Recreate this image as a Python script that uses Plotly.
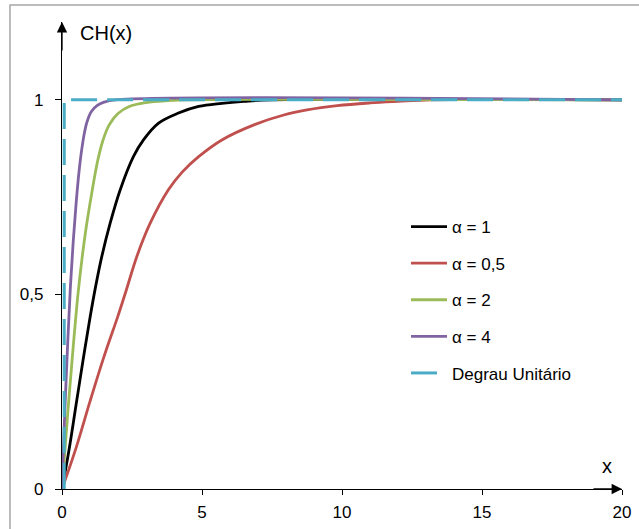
import plotly.graph_objects as go

# ---- data ----
series_names = ["α = 1", "α = 0,5", "α = 2", "α = 4", "Degrau Unitário"]

x_a1 = [0, 0.25, 0.5, 0.75, 1.0, 1.2, 1.42, 1.72, 2.08, 2.55, 2.91, 3.45, 4.16, 4.88, 5.71, 6.5, 7.5, 20]
y_a1 = [0, 0.10, 0.215, 0.33, 0.44, 0.52, 0.597, 0.683, 0.769, 0.854, 0.897, 0.94, 0.966, 0.983, 0.991, 0.996, 1.0, 1.0]

x_a05 = [0, 0.5, 1.0, 1.5, 2.0, 2.3, 2.67, 3.15, 3.8, 4.3, 4.88, 5.71, 6.9, 7.92, 8.75, 9.83, 11.0, 12.0, 13.2, 20]
y_a05 = [0, 0.105, 0.225, 0.34, 0.445, 0.512, 0.597, 0.683, 0.769, 0.815, 0.854, 0.897, 0.937, 0.961, 0.974, 0.985, 0.992, 0.996, 1.0, 1.0]

x_a2 = [0, 0.2, 0.4, 0.57, 0.72, 0.87, 1.05, 1.27, 1.45, 1.68, 2.0, 2.4, 3.0, 3.8, 4.5, 20]
y_a2 = [0, 0.19, 0.365, 0.5, 0.595, 0.675, 0.755, 0.842, 0.893, 0.935, 0.965, 0.983, 0.993, 0.998, 1.0, 1.0]

x_a4 = [0, 0.1, 0.2, 0.3, 0.4, 0.5, 0.6, 0.7, 0.8, 0.9, 1.05, 1.25, 1.5, 1.9, 20]
y_a4 = [0, 0.2, 0.37, 0.52, 0.635, 0.73, 0.81, 0.87, 0.915, 0.945, 0.97, 0.985, 0.994, 1.0, 1.0]

x_step = [0.08, 0.08, 20]
y_step = [0, 1, 1]

x_tick_vals = [0, 5, 10, 15, 20]
x_tick_text = ["0", "5", "10", "15", "20"]
y_tick_vals = [0, 0.5, 1]
y_tick_text = ["0", "0,5", "1"]

colors = ["#000000", "#C0504D", "#9BBB59", "#8064A2", "#4BACC6"]

FONT = "Liberation Sans, Arial, sans-serif"

fig = go.Figure()
data_sets = [(x_a1, y_a1), (x_a05, y_a05), (x_a2, y_a2), (x_a4, y_a4)]
for i, (xs, ys) in enumerate(data_sets):
    fig.add_trace(go.Scatter(
        x=xs, y=ys, mode="lines", name=series_names[i], legendgroup=str(i),
        line=dict(color=colors[i], width=2.8, shape="spline", smoothing=1.0),
    ))
fig.add_trace(go.Scatter(
    x=x_step, y=y_step, mode="lines", name=series_names[4], legendgroup="4",
    line=dict(color=colors[4], width=3, dash="26px,10px"),
))

fig.update_layout(
    width=639, height=529,
    margin=dict(l=62, r=17, t=22, b=40, autoexpand=False),
    paper_bgcolor="white", plot_bgcolor="white",
    font=dict(family=FONT, size=17, color="black"),
    xaxis=dict(range=[0, 20], tickvals=x_tick_vals, ticktext=x_tick_text,
               ticks="outside", ticklen=5, tickwidth=1, tickcolor="black",
               showline=True, linecolor="black", linewidth=1.3, automargin=False,
               showgrid=False, zeroline=False, ticklabelstandoff=2),
    yaxis=dict(range=[0, 1.2], tickvals=y_tick_vals, ticktext=y_tick_text,
               ticks="outside", ticklen=6, tickwidth=1, tickcolor="black",
               showline=True, linecolor="black", linewidth=1.3, automargin=False,
               showgrid=False, zeroline=False, ticklabelstandoff=8),
    legend=dict(x=(406 - 62) / 560, y=0.5996, xanchor="left", yanchor="top",
                bgcolor="rgba(0,0,0,0)", font=dict(size=17, family=FONT),
                traceorder="grouped", tracegroupgap=11.5, itemwidth=36),
    showlegend=True,
)

# axis arrows
fig.add_annotation(x=0, y=1.2, xref="x", yref="y", ax=0, ay=30, text="",
                   showarrow=True, arrowhead=2, arrowsize=1.6, arrowwidth=1.3,
                   arrowcolor="black", standoff=0)
fig.add_annotation(x=20, y=0, xref="x", yref="y", ax=-30, ay=0, text="",
                   showarrow=True, arrowhead=2, arrowsize=1.6, arrowwidth=1.3,
                   arrowcolor="black", standoff=0)

# axis titles
fig.add_annotation(x=(78 - 62) / 560, y=(489 - 33) / 467, xref="paper", yref="paper",
                   text="CH(x)", showarrow=False, xanchor="left", yanchor="middle",
                   font=dict(size=20, family=FONT, color="black"))
fig.add_annotation(x=(607 - 62) / 560, y=(489 - 466) / 467, xref="paper", yref="paper",
                   text="x", showarrow=False, xanchor="center", yanchor="middle",
                   font=dict(size=20, family=FONT, color="black"))

# outer chart border (cropped on right and bottom in the reference)
fig.add_shape(type="rect", xref="paper", yref="paper",
              x0=(10 - 62) / 560, x1=1.2, y0=-0.2, y1=(489 - 5) / 467,
              line=dict(color="#A6A6A6", width=1.5), fillcolor="rgba(0,0,0,0)", layer="below")

fig.write_html("out.html")
